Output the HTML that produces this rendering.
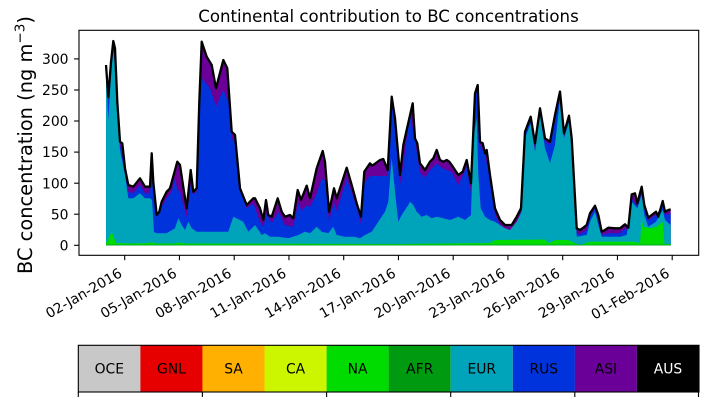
<!DOCTYPE html>
<html>
<head>
<meta charset="utf-8">
<style>
html,body{margin:0;padding:0;background:#fff;}
svg{display:block;}
text{font-family:"DejaVu Sans","Liberation Sans",sans-serif;}
</style>
</head>
<body>
<svg width="707" height="402" viewBox="0 0 707 402" xmlns="http://www.w3.org/2000/svg">
<rect width="707" height="402" fill="#fff"/>

<!-- Title -->
<text x="388.5" y="22" font-size="16.6" text-anchor="middle" fill="#000">Continental contribution to BC concentrations</text>

<!-- Stacked layers -->
<g stroke="none">
<polygon fill="#6a0098" points="106,65 108.3,97 111,62 113.3,41 115,48.3 117.3,101.7 120,141.7 122.3,143.3 125,168.3 128.3,185 133.3,186.7 140,178.3 145,186.7 150,186.7 151.7,153.3 153.3,181.7 156.7,215 159.3,211.7 161.7,201.7 166.7,191.7 170,188.3 177.3,161.7 180,165 184,191.7 186.7,208.3 190.7,170 193.3,191.7 196.7,188.3 199.3,101.7 201.7,41.7 206.7,56.7 211.7,65 216,88.3 223.3,60 227.3,68.3 231.7,131.7 235,135 240,188.3 246.7,205 253.3,198.3 255,198.3 260,208.3 263.3,220 266,200 268.3,215 271.7,216.7 277.7,198.3 281.7,211.7 285,216.7 290,215 293.3,218.3 297.7,190 301,200 306.7,185.7 310,198.3 316.7,168.3 322.7,151 325,161.7 329,211.7 334,188.3 336.7,198.3 346.7,167.7 351.7,185 356.7,203.3 361,216.7 364.3,171.7 370,163.3 372.3,165.7 380,160 383.3,159 387.7,170 391.7,96.7 395,118.3 400,175 403.3,145 412.7,103.3 415,138.3 417.3,143.3 420,163.3 425,170 430,161.7 433.3,158.3 436.7,150 440,160 443.3,161.7 446.7,160 449.3,161.7 451.7,165 458.3,175 462.7,171.7 466.7,160 471,183.3 475,93.3 477.7,85 480,141.7 482.7,143.3 485,153.3 486.7,150 490,175 495,208.3 500,220 505,225 511.7,225 516.7,216.7 521,208.3 525,131.7 530.7,116.7 535,143.3 540,108.3 545,138.3 550,141.7 555,115 560,91.5 564,133.3 569,115.7 571.7,138.3 576.7,228.3 580,230 583.3,227.7 586.7,225 590,213.3 595,205.7 598.3,215 601.7,231.7 605,230 608.3,227.7 615,228.3 620,228.3 625,224.3 628.3,227.7 631.7,194.3 635,193.3 637.3,203.3 641.7,186.7 644.3,205 648.3,217.7 651.7,215 656,211.7 658.3,216.7 662.7,201 665,211.7 668.3,210 670.7,209.3 670.7,245.3 106,245.3"/>
<polygon fill="#0033dc" points="106,67 108.3,100 111,70 113.3,44 115,52 117.3,105 120,145 125,171 128.3,191.7 133.3,193.3 140,185 145,193.3 150,193.3 151.7,156 153.3,185 156.7,216.7 161.7,206.7 166.7,198.3 171.7,191.7 175,178.3 177.3,190 180,191.7 183.3,205 186.7,216.7 190.7,185 193.3,195 196.7,191.7 199.3,110 201.7,78.3 210,88.3 216,106.7 223.3,90 228.3,101.7 231.7,138.3 236.7,145 241.7,195 246.7,208.3 253.3,203.3 260,221.7 263.3,226.7 266.7,213.3 271.7,223.3 278.3,211.7 285,225 293.3,226.7 298.3,202.7 301.7,211 306.7,205.3 310,207 316.7,193.7 321.7,178.7 325,180.3 329,221 334,202.7 336.7,211 346.7,179.3 351.7,192.7 358.3,212.7 361,224.3 364.3,182.7 370,176 381.7,176 387.7,176 391.7,100 395,121.7 400,185 403.3,165 410,113 415,141.7 420,172.7 425,177.7 430,170.3 436.7,163.7 443.3,168.7 451.7,172 458.3,185.3 466.7,167 471,192.7 475,95 478.3,88.3 480,145 485,155 490,178.3 495,215 500,225 505,233.3 511.7,233.3 516.7,228.3 521.7,208.3 525,133.3 530.7,118.3 535,150 540,111.7 545,141.7 550,145 555,116.7 560,95 564,136.7 569,120 571.7,141.7 576.7,233.3 580,234.3 586.7,230 590,216.7 595,208.3 598.3,220 601.7,235 608.3,233.3 620,233.3 625,228.3 628.3,231.7 631.7,198.3 637.3,206.7 641.7,191.7 644.3,208.3 648.3,220 656,215 662.7,205 665,215 670.7,213.3 670.7,245.3 106,245.3"/>
<polygon fill="#00a4ba" points="106,70 108.3,120 111,75 113.3,50 115,65 117.3,110 120,150 125,175 128.3,198.3 133.3,198.3 140,193.3 145,198.3 150,198.3 152,200 154,232 156.7,233.3 166.7,233.3 175,228.3 178.3,218.3 181.7,225 185,230 188.3,221.7 191.7,228.3 196.7,231.7 228.3,231.7 233.3,216.7 243.3,221.7 248.3,231.7 255,225 261.7,235 265,233.3 270,236.7 278.3,236.7 288.3,238.3 298.3,235 305,231.7 310,233.3 316.7,226.7 321.7,231.7 328.3,233.3 333.3,226.7 336.7,235 345,236.7 355,236.7 360,238.3 365,235 371.7,231.7 378.3,221.7 385,211.7 388.3,201.7 391.7,158.3 395,191.7 398.3,221.7 401.7,215 408.3,205 410,201.7 413.3,205 416.7,211.7 421.7,216.7 426.7,215 431.7,218.3 436.7,216.7 443.3,218.3 450,220 458.3,216.7 465,220 471,215 473.3,138.3 476.7,118.3 478.3,175 480.7,208.3 485,216.7 490,220 495,221.7 500,225 505,228.3 510,230 516.7,221.7 521.7,211.7 525,138.3 530.7,123.3 535,151.7 540,115 545,148.3 550,163.3 555,145 560,98.3 564,138.3 569,121.7 571.7,141.7 576.7,236.7 586.7,235 590,221.7 595,211.7 598.3,225 601.7,236.7 620,236.7 626.7,235 631.7,201.7 637.3,208.3 641.7,195 644.3,215 648.3,226.7 656,221.7 662.7,210 665,220 670.7,225 670.7,245.3 106,245.3"/>
<polygon fill="#00dc00" points="106,243 108,240 111.7,232 114,238 116,243 130,243.5 150,243 152,242 155,243.5 175,243.5 178,242.5 185,243.5 400,244 490,243 495,240 545,239.5 548,243 556,240 568,240 575,243.3 580,245 590,241.7 635,241.7 640,243.3 641.7,220 643.3,226.7 650,228.3 656.7,226.7 662.7,221.7 664.5,244 670.7,244 670.7,245.3 106,245.3"/>
<polygon fill="#009a10" points="106,245.3 670.7,245.3 670.7,244.6 106,244.6"/>
</g>
<!-- Total outline -->
<polyline fill="none" stroke="#000" stroke-width="2.3" stroke-linejoin="round" points="106,65 108.3,97 111,62 113.3,41 115,48.3 117.3,101.7 120,141.7 122.3,143.3 125,168.3 128.3,185 133.3,186.7 140,178.3 145,186.7 150,186.7 151.7,153.3 153.3,181.7 156.7,215 159.3,211.7 161.7,201.7 166.7,191.7 170,188.3 177.3,161.7 180,165 184,191.7 186.7,208.3 190.7,170 193.3,191.7 196.7,188.3 199.3,101.7 201.7,41.7 206.7,56.7 211.7,65 216,88.3 223.3,60 227.3,68.3 231.7,131.7 235,135 240,188.3 246.7,205 253.3,198.3 255,198.3 260,208.3 263.3,220 266,200 268.3,215 271.7,216.7 277.7,198.3 281.7,211.7 285,216.7 290,215 293.3,218.3 297.7,190 301,200 306.7,185.7 310,198.3 316.7,168.3 322.7,151 325,161.7 329,211.7 334,188.3 336.7,198.3 346.7,167.7 351.7,185 356.7,203.3 361,216.7 364.3,171.7 370,163.3 372.3,165.7 380,160 383.3,159 387.7,170 391.7,96.7 395,118.3 400,175 403.3,145 412.7,103.3 415,138.3 417.3,143.3 420,163.3 425,170 430,161.7 433.3,158.3 436.7,150 440,160 443.3,161.7 446.7,160 449.3,161.7 451.7,165 458.3,175 462.7,171.7 466.7,160 471,183.3 475,93.3 477.7,85 480,141.7 482.7,143.3 485,153.3 486.7,150 490,175 495,208.3 500,220 505,225 511.7,225 516.7,216.7 521,208.3 525,131.7 530.7,116.7 535,143.3 540,108.3 545,138.3 550,141.7 555,115 560,91.5 564,133.3 569,115.7 571.7,138.3 576.7,228.3 580,230 583.3,227.7 586.7,225 590,213.3 595,205.7 598.3,215 601.7,231.7 605,230 608.3,227.7 615,228.3 620,228.3 625,224.3 628.3,227.7 631.7,194.3 635,193.3 637.3,203.3 641.7,186.7 644.3,205 648.3,217.7 651.7,215 656,211.7 658.3,216.7 662.7,201 665,211.7 668.3,210 670.7,209.3"/>

<!-- Axes frame -->
<rect x="79" y="30.3" width="619.7" height="225" fill="none" stroke="#000" stroke-width="1.1"/>

<!-- Y ticks -->
<g stroke="#000" stroke-width="1.1">
<line x1="74.1" y1="245.3" x2="79" y2="245.3"/>
<line x1="74.1" y1="214.2" x2="79" y2="214.2"/>
<line x1="74.1" y1="183.2" x2="79" y2="183.2"/>
<line x1="74.1" y1="152.1" x2="79" y2="152.1"/>
<line x1="74.1" y1="121.0" x2="79" y2="121.0"/>
<line x1="74.1" y1="90.0" x2="79" y2="90.0"/>
<line x1="74.1" y1="58.9" x2="79" y2="58.9"/>
</g>
<g font-size="13.9" text-anchor="end" fill="#000">
<text x="68.5" y="250.4">0</text>
<text x="68.5" y="219.3">50</text>
<text x="68.5" y="188.3">100</text>
<text x="68.5" y="157.2">150</text>
<text x="68.5" y="126.1">200</text>
<text x="68.5" y="95.1">250</text>
<text x="68.5" y="64.0">300</text>
</g>

<!-- Y label -->
<text x="32" y="145" font-size="19.4" text-anchor="middle" transform="rotate(-90 32 145)" fill="#000">BC concentration (ng m<tspan font-size="13.6" dy="-7.5">−3</tspan><tspan dy="7.5">)</tspan></text>

<!-- X ticks -->
<g stroke="#000" stroke-width="1.1">
<line x1="124.7" y1="255.3" x2="124.7" y2="260.2"/>
<line x1="179.45" y1="255.3" x2="179.45" y2="260.2"/>
<line x1="234.2" y1="255.3" x2="234.2" y2="260.2"/>
<line x1="288.95" y1="255.3" x2="288.95" y2="260.2"/>
<line x1="343.7" y1="255.3" x2="343.7" y2="260.2"/>
<line x1="398.45" y1="255.3" x2="398.45" y2="260.2"/>
<line x1="453.2" y1="255.3" x2="453.2" y2="260.2"/>
<line x1="507.95" y1="255.3" x2="507.95" y2="260.2"/>
<line x1="562.7" y1="255.3" x2="562.7" y2="260.2"/>
<line x1="617.45" y1="255.3" x2="617.45" y2="260.2"/>
<line x1="672.2" y1="255.3" x2="672.2" y2="260.2"/>
</g>
<g font-size="13.9" text-anchor="end" fill="#000">
<text x="123.1" y="276" transform="rotate(-30 123.1 276)">02-Jan-2016</text>
<text x="177.85" y="276" transform="rotate(-30 177.85 276)">05-Jan-2016</text>
<text x="232.6" y="276" transform="rotate(-30 232.6 276)">08-Jan-2016</text>
<text x="287.35" y="276" transform="rotate(-30 287.35 276)">11-Jan-2016</text>
<text x="342.1" y="276" transform="rotate(-30 342.1 276)">14-Jan-2016</text>
<text x="396.85" y="276" transform="rotate(-30 396.85 276)">17-Jan-2016</text>
<text x="451.6" y="276" transform="rotate(-30 451.6 276)">20-Jan-2016</text>
<text x="506.35" y="276" transform="rotate(-30 506.35 276)">23-Jan-2016</text>
<text x="561.1" y="276" transform="rotate(-30 561.1 276)">26-Jan-2016</text>
<text x="615.85" y="276" transform="rotate(-30 615.85 276)">29-Jan-2016</text>
<text x="670.6" y="276" transform="rotate(-30 670.6 276)">01-Feb-2016</text>
</g>

<!-- Colorbar -->
<g stroke="none">
<rect x="78.3" y="345.3" width="62.1" height="46.7" fill="#c8c8c8"/>
<rect x="140.4" y="345.3" width="62.1" height="46.7" fill="#e60000"/>
<rect x="202.4" y="345.3" width="62.1" height="46.7" fill="#ffb000"/>
<rect x="264.5" y="345.3" width="62.1" height="46.7" fill="#ccf600"/>
<rect x="326.6" y="345.3" width="62.1" height="46.7" fill="#00dc00"/>
<rect x="388.6" y="345.3" width="62.1" height="46.7" fill="#009a10"/>
<rect x="450.7" y="345.3" width="62.1" height="46.7" fill="#00a4ba"/>
<rect x="512.8" y="345.3" width="62.1" height="46.7" fill="#0033dc"/>
<rect x="574.8" y="345.3" width="62.1" height="46.7" fill="#6a0098"/>
<rect x="636.9" y="345.3" width="62.1" height="46.7" fill="#000000"/>
</g>
<rect x="78.3" y="345.3" width="620.7" height="46.7" fill="none" stroke="#000" stroke-width="1.1"/>
<g font-size="13.9" text-anchor="middle" fill="#000">
<text x="109.3" y="373.5">OCE</text>
<text x="171.4" y="373.5">GNL</text>
<text x="233.5" y="373.5">SA</text>
<text x="295.6" y="373.5">CA</text>
<text x="357.6" y="373.5">NA</text>
<text x="419.7" y="373.5">AFR</text>
<text x="481.8" y="373.5">EUR</text>
<text x="543.8" y="373.5">RUS</text>
<text x="605.9" y="373.5">ASI</text>
<text x="668" y="373.5" fill="#fff">AUS</text>
</g>
<g stroke="#000" stroke-width="1.1">
<line x1="78.3" y1="392" x2="78.3" y2="397"/>
<line x1="202.4" y1="392" x2="202.4" y2="397"/>
<line x1="326.6" y1="392" x2="326.6" y2="397"/>
<line x1="450.7" y1="392" x2="450.7" y2="397"/>
<line x1="574.8" y1="392" x2="574.8" y2="397"/>
<line x1="698.5" y1="392" x2="698.5" y2="397"/>
</g>
</svg>
</body>
</html>
